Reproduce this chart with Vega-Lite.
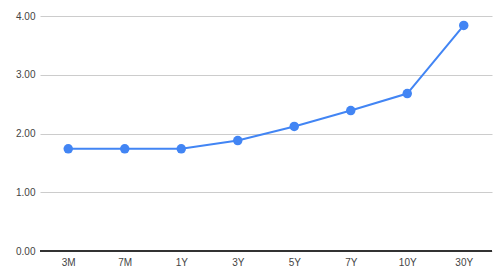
{
  "$schema": "https://vega.github.io/schema/vega-lite/v6.json",
  "width": 452,
  "height": 235,
  "autosize": {"type": "none"},
  "padding": {"left": 40, "top": 16, "right": 8, "bottom": 27},
  "background": "white",
  "config": {
    "view": {"stroke": null},
    "font": "Liberation Sans"
  },
  "data": {
    "values": [
      {"term": "3M", "yield": 1.74},
      {"term": "7M", "yield": 1.74},
      {"term": "1Y", "yield": 1.74},
      {"term": "3Y", "yield": 1.88},
      {"term": "5Y", "yield": 2.12},
      {"term": "7Y", "yield": 2.39},
      {"term": "10Y", "yield": 2.68},
      {"term": "30Y", "yield": 3.84}
    ]
  },
  "layer": [
    {
      "mark": {"type": "line", "color": "#4285F4", "strokeWidth": 2},
      "encoding": {
        "x": {
          "field": "term", "type": "ordinal", "sort": null,
          "scale": {"paddingInner": 0, "paddingOuter": 0.5},
          "axis": {"title": null, "labelAngle": 0, "domain": false, "ticks": false, "labelPadding": 6, "labelFontSize": 10, "labelColor": "#444444"}
        },
        "y": {
          "field": "yield", "type": "quantitative",
          "scale": {"domain": [0, 4], "nice": false},
          "axis": {"title": null, "values": [0, 1, 2, 3, 4], "format": ".2f", "domain": false, "ticks": false, "labelPadding": 5, "labelFontSize": 10, "labelColor": "#444444", "gridColor": "#cccccc", "gridWidth": 1}
        }
      }
    },
    {
      "mark": {"type": "point", "filled": true, "color": "#4285F4", "size": 90, "opacity": 1},
      "encoding": {
        "x": {"field": "term", "type": "ordinal", "sort": null},
        "y": {"field": "yield", "type": "quantitative"}
      }
    },
    {
      "mark": {"type": "rule", "color": "#333333", "strokeWidth": 1},
      "encoding": {"y": {"datum": 0}}
    }
  ]
}
